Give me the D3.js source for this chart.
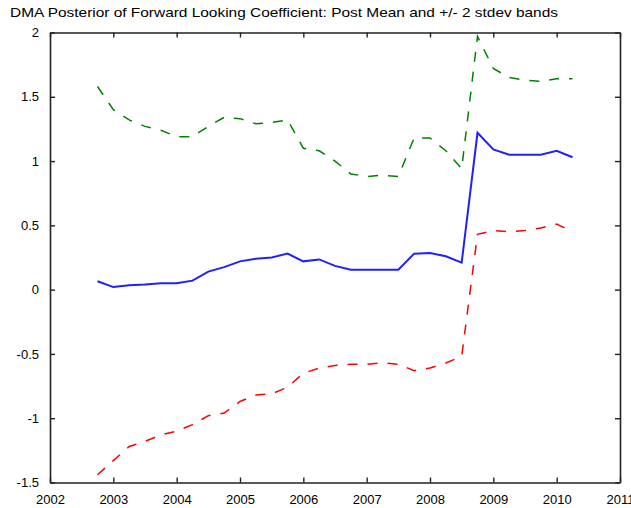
<!DOCTYPE html>
<html>
<head>
<meta charset="utf-8">
<script src="https://cdn.jsdelivr.net/npm/d3@7"></script>
<style>
  body { margin: 0; background: #fff; }
  svg { display: block; }
  .axis text { font-family: "Liberation Sans", Arial, sans-serif; font-size: 13px; fill: #000; }
  .axis path, .axis line { stroke: #222; }
</style>
</head>
<body>
<script>
// quarterly dates, 2002Q4 .. 2010Q2
var dates = [2002.75, 2003, 2003.25, 2003.5, 2003.75, 2004, 2004.25, 2004.5, 2004.75,
  2005, 2005.25, 2005.5, 2005.75, 2006, 2006.25, 2006.5, 2006.75, 2007, 2007.25, 2007.5,
  2007.75, 2008, 2008.25, 2008.5, 2008.75, 2009, 2009.25, 2009.5, 2009.75, 2010, 2010.25];

// posterior mean
var postMean = [0.065, 0.02, 0.035, 0.04, 0.05, 0.05, 0.07, 0.14, 0.175,
  0.22, 0.24, 0.25, 0.28, 0.22, 0.235, 0.185, 0.155, 0.155, 0.155, 0.155,
  0.28, 0.285, 0.26, 0.21, 1.22, 1.09, 1.05, 1.05, 1.05, 1.08, 1.03];

// mean + 2 stdev
var upperBand = [1.58, 1.40, 1.32, 1.27, 1.24, 1.19, 1.19, 1.27, 1.34,
  1.33, 1.29, 1.30, 1.32, 1.10, 1.08, 1.00, 0.90, 0.88, 0.89, 0.88,
  1.18, 1.18, 1.08, 0.94, 1.97, 1.72, 1.65, 1.63, 1.62, 1.64, 1.64];

// mean - 2 stdev
var lowerBand = [-1.44, -1.33, -1.22, -1.18, -1.13, -1.10, -1.05, -0.98, -0.96,
  -0.87, -0.82, -0.81, -0.76, -0.65, -0.61, -0.59, -0.58, -0.58, -0.57, -0.58,
  -0.63, -0.61, -0.57, -0.52, 0.43, 0.46, 0.45, 0.46, 0.48, 0.51, 0.45];

var xTicks = [2002, 2003, 2004, 2005, 2006, 2007, 2008, 2009, 2010, 2011];
var yTicks = [-1.5, -1, -0.5, 0, 0.5, 1, 1.5, 2];
var title = "DMA Posterior of Forward Looking Coefficient: Post Mean and +/- 2 stdev bands";

// Set the dimensions of the canvas / graph
var margin = { top: 32.5, right: 11, bottom: 25.5, left: 50 },
  width = 631 - margin.left - margin.right,
  height = 508 - margin.top - margin.bottom;

var xRange = d3.scaleLinear().domain([2002, 2011]).range([0, width]);
var yRange = d3.scaleLinear().domain([-1.5, 2]).range([height, 0]);

var svg = d3.select("body")
  .append("svg")
  .attr("width", 631)
  .attr("height", 508);

svg.append("text")
  .attr("x", 10)
  .attr("y", 17)
  .attr("font-family", "Liberation Sans, Arial, sans-serif")
  .attr("font-size", 13)
  .attr("textLength", 548)
  .attr("lengthAdjust", "spacingAndGlyphs")
  .text(title);

var g = svg.append("g")
  .attr("transform", "translate(" + margin.left + "," + margin.top + ")");

var fmt = function (d) { return String(d); };

// axes, ticks pointing inward on all four sides
g.append("g")
  .attr("class", "axis")
  .attr("transform", "translate(0," + height + ")")
  .call(d3.axisBottom(xRange).tickValues(xTicks).tickFormat(fmt).tickSizeInner(-5).tickSizeOuter(0).tickPadding(12));

g.append("g")
  .attr("class", "axis")
  .call(d3.axisTop(xRange).tickValues(xTicks).tickFormat("").tickSizeInner(-5).tickSizeOuter(0));

g.append("g")
  .attr("class", "axis")
  .call(d3.axisLeft(yRange).tickValues(yTicks).tickFormat(fmt).tickSizeInner(-5).tickSizeOuter(0).tickPadding(11));

g.append("g")
  .attr("class", "axis")
  .attr("transform", "translate(" + width + ",0)")
  .call(d3.axisRight(yRange).tickValues(yTicks).tickFormat("").tickSizeInner(-5).tickSizeOuter(0));

g.selectAll(".axis path").attr("stroke-width", 1.6);
g.selectAll(".axis line").attr("stroke-width", 1.4);

// Define the lines
var series = [
  { values: upperBand, color: "#008000", width: 1.5, dash: "10,10" },
  { values: lowerBand, color: "#ff0000", width: 1.5, dash: "10,10" },
  { values: postMean, color: "#2020ff", width: 2, dash: null }
];

var valueline = d3.line()
  .x(function (d) { return xRange(d[0]); })
  .y(function (d) { return yRange(d[1]); });

series.forEach(function (s) {
  var pts = dates.map(function (d, i) { return [d, s.values[i]]; });
  g.append("path")
    .datum(pts)
    .attr("fill", "none")
    .attr("stroke", s.color)
    .attr("stroke-width", s.width)
    .attr("stroke-dasharray", s.dash)
    .attr("d", valueline);
});
</script>
</body>
</html>
